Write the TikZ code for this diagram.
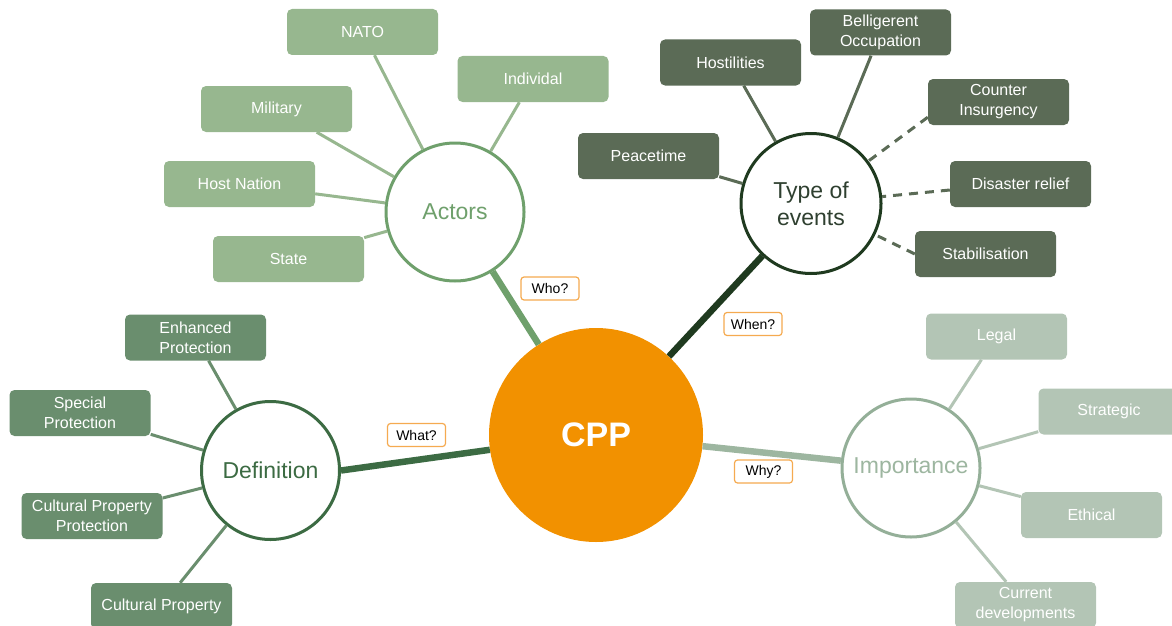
\documentclass[tikz,border=0pt]{standalone}
\usepackage{fontspec}
\setmainfont{Liberation Sans}

\definecolor{cpporange}{HTML}{F29100}
\definecolor{askorange}{HTML}{F5AA50}
\definecolor{actbox}{HTML}{97B78F}
\definecolor{actring}{HTML}{6FA06C}
\definecolor{evtbox}{HTML}{5B6B56}
\definecolor{evtring}{HTML}{1F3A1F}
\definecolor{evttext}{HTML}{2F4030}
\definecolor{defbox}{HTML}{6A8E6E}
\definecolor{defring}{HTML}{3C6B43}
\definecolor{impbox}{HTML}{B3C5B5}
\definecolor{impring}{HTML}{94AF98}
\definecolor{imptext}{HTML}{9DB6A0}

\tikzset{
  leaf/.style={rounded corners=5pt, minimum width=141pt, minimum height=46pt, inner sep=2pt,
    text=white, align=center, font=\fontsize{16}{20}\selectfont},
  hub/.style={circle, draw, line width=3pt, fill=white, minimum size=138pt, inner sep=0pt,
    align=center, font=\fontsize{23}{27}\selectfont},
  ask/.style={draw=askorange, line width=1.2pt, rounded corners=3pt, fill=white,
    minimum width=58pt, minimum height=23pt, inner sep=0pt, font=\fontsize{14}{16}\selectfont},
  twig/.style={line width=3pt},
  spoke/.style={line width=6.5pt},
}

\begin{document}
\begin{tikzpicture}[x=1pt,y=-1pt]
  \useasboundingbox (0,0) rectangle (1172,626);
  \def\diam{214pt}

  % the centre
  \node[circle, fill=cpporange, minimum size=\diam, text=white, font=\fontsize{34}{40}\selectfont\bfseries] (cpp) at (596,435) {CPP};

  % actors
  \node[hub, draw=actring, text=actring] (actors) at (455,212) {Actors};
  \node[leaf, fill=actbox, minimum width=151pt] (nato) at (362.5,32) {NATO};
  \node[leaf, fill=actbox, minimum width=151pt] (indiv) at (533,79) {Individal};
  \node[leaf, fill=actbox, minimum width=151pt] (military) at (276.5,109) {Military};
  \node[leaf, fill=actbox, minimum width=151pt] (host) at (239.5,184) {Host Nation};
  \node[leaf, fill=actbox, minimum width=151pt] (state) at (288.5,259) {State};
  \foreach \n in {nato,indiv,military,host,state}
    \draw[twig, actbox] (\n) -- (actors);

  % type of events
  \node[hub, draw=evtring, text=evttext, minimum size=140pt] (events) at (811,203.5) {Type of\\events};
  \node[leaf, fill=evtbox] (hostil) at (730.5,62.5) {Hostilities};
  \node[leaf, fill=evtbox] (bellig) at (880.5,32.5) {Belligerent\\Occupation};
  \node[leaf, fill=evtbox] (counter) at (998.5,102) {Counter\\Insurgency};
  \node[leaf, fill=evtbox] (disaster) at (1020.5,184) {Disaster relief};
  \node[leaf, fill=evtbox] (stab) at (985.5,254) {Stabilisation};
  \node[leaf, fill=evtbox] (peace) at (648.5,156) {Peacetime};
  \foreach \n in {hostil,bellig,peace}
    \draw[twig, evtbox] (\n) -- (events);
  \draw[twig, evtbox, dash pattern=on 9pt off 7pt] ([yshift=8pt]counter.south west) -- (events);
  \draw[twig, evtbox, dash pattern=on 9pt off 7pt] ([yshift=-6pt]disaster.west) -- (events);
  \draw[twig, evtbox, dash pattern=on 9pt off 7pt] (stab.west) -- (events);

  % definition
  \node[hub, draw=defring, text=defring] (defin) at (270.5,470.5) {Definition};
  \node[leaf, fill=defbox] (enhanced) at (195.5,337.5) {Enhanced\\Protection};
  \node[leaf, fill=defbox] (special) at (80,413) {Special\\Protection};
  \node[leaf, fill=defbox] (cpprot) at (92,516) {Cultural Property\\Protection};
  \node[leaf, fill=defbox] (cprop) at (161.5,606) {Cultural Property};
  \foreach \n in {enhanced,special,cpprot,cprop}
    \draw[twig, defbox] (\n) -- (defin);

  % importance
  \node[hub, draw=impring, text=imptext] (import) at (911,468) {Importance};
  \node[leaf, fill=impbox] (legal) at (996.5,336.5) {Legal};
  \node[leaf, fill=impbox] (strat) at (1109,411.5) {Strategic};
  \node[leaf, fill=impbox] (ethic) at (1091.5,515) {Ethical};
  \node[leaf, fill=impbox] (current) at (1025.5,605) {Current\\developments};
  \foreach \n in {legal,strat,ethic,current}
    \draw[twig, impbox] (\n) -- (import);

  % spokes to the centre
  \draw[spoke, actring] (actors) -- (cpp);
  \draw[spoke, evtring] (events) -- (cpp);
  \draw[spoke, defring] (defin.east) -- (cpp);
  \draw[spoke, imptext] (import) -- (cpp);

  % questions
  \node[ask] (who) at (550,288.5) {Who?};
  \node[ask] (when) at (753,324) {When?};
  \node[ask] (what) at (416.5,435) {What?};
  \node[ask] (why) at (763.5,471.5) {Why?};
\end{tikzpicture}
\end{document}
